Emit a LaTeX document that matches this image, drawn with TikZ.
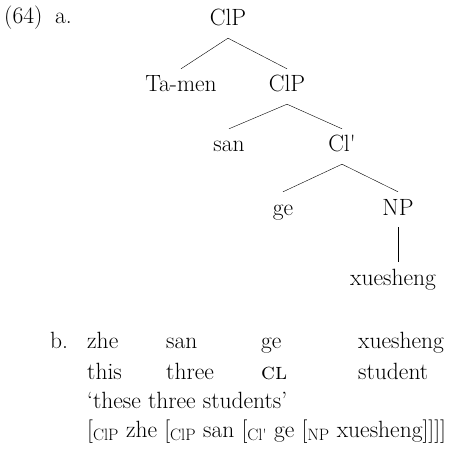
\documentclass[tikz,border=0pt]{standalone}
\usepackage{tikz}

\begin{document}
\begin{tikzpicture}[x=1pt,y=-1pt,
  every node/.style={font=\fontsize{23.5}{28}\selectfont},
  lbl/.style={anchor=base,text height=16pt,text depth=5pt,inner ysep=7pt},
  word/.style={anchor=base west,inner sep=0pt}]
  \useasboundingbox (0,0) rectangle (448,454);
  % example numbers
  \node[word] (num) at (4,24) {(64)};
  \node[word] (exa) at (55,24) {a.};
  \node[word] (exb) at (50,348) {b.};
  % tree
  \node[lbl] (clpa) at (228,26) {ClP};
  \node[lbl] (tamen) at (181,92) {Ta-men};
  \node[lbl] (clpb) at (287,92) {ClP};
  \node[lbl] (san) at (229,152) {san};
  \node[lbl] (clbar) at (342,152) {Cl\textquotesingle};
  \node[lbl] (ge) at (283,215) {ge};
  \node[lbl] (np) at (398,215) {NP};
  \node[lbl] (xs) at (393,285) {xuesheng};
  \foreach \a/\b in {clpa/tamen,clpa/clpb,clpb/san,clpb/clbar,clbar/ge,clbar/np}
    \draw (\a.south) -- (\b.north);
  \draw (np.south) -- (np.south |- xs.north);
  % gloss
  \node[word] (zhe) at (87,348) {zhe};
  \node[word] (sanb) at (166,348) {san};
  \node[word] (geb) at (261,348) {ge};
  \node[word] (xsb) at (358,348) {xuesheng};
  \node[word] (this) at (87,379) {this};
  \node[word] (three) at (166,379) {three};
  \node[word] (cl) at (261,379) {\textsc{cl}};
  \node[word] (student) at (358,379) {student};
  \node[word] (trans) at (87,408) {`these three students'};
  \node[word] (brack) at (87,437) {[\textsubscript{ClP} zhe [\textsubscript{ClP} san [\textsubscript{Cl\textquotesingle} ge [\textsubscript{NP} xuesheng]]]]};
\end{tikzpicture}
\end{document}
